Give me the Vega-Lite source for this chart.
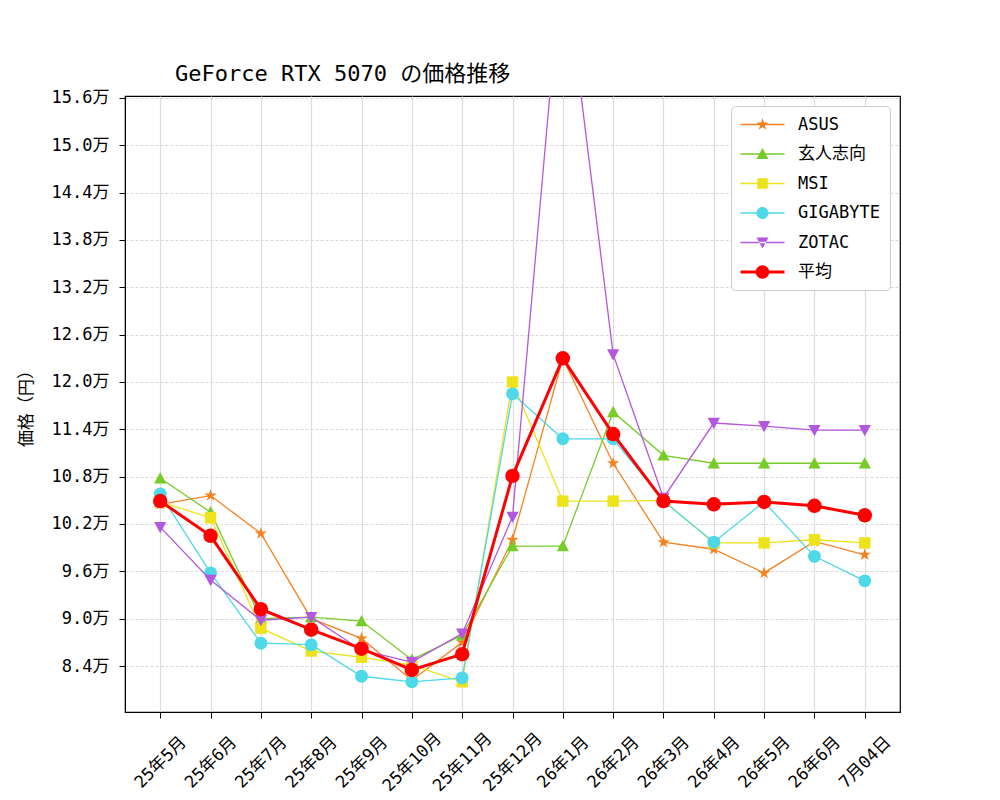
{
  "$schema": "https://vega.github.io/schema/vega-lite/v6.json",
  "width": 775,
  "height": 616,
  "autosize": {"type": "none"},
  "padding": {"left": 125, "top": 96, "right": 100, "bottom": 88},
  "background": "white",
  "title": {"text": "GeForce RTX 5070 の価格推移", "anchor": "start", "frame": "group", "dx": 50, "offset": 3, "fontSize": 22, "fontWeight": "normal", "color": "black"},
  "config": {
    "font": "DejaVu Sans Mono, Noto Sans CJK JP",
    "view": {"stroke": "black", "strokeWidth": 1.2},
    "axis": {"domainColor": "black", "tickColor": "black", "labelColor": "black", "titleColor": "black", "tickSize": 6, "labelFontSize": 17, "titleFontSize": 17, "titleFontWeight": "normal"}
  },
  "data": {"values": [
    {"date": "25年5月", "series": "ASUS", "price": 104500},
    {"date": "25年6月", "series": "ASUS", "price": 105600},
    {"date": "25年7月", "series": "ASUS", "price": 100800},
    {"date": "25年8月", "series": "ASUS", "price": 90000},
    {"date": "25年9月", "series": "ASUS", "price": 87500},
    {"date": "25年10月", "series": "ASUS", "price": 82200},
    {"date": "25年11月", "series": "ASUS", "price": 87000},
    {"date": "25年12月", "series": "ASUS", "price": 100000},
    {"date": "26年1月", "series": "ASUS", "price": 123000},
    {"date": "26年2月", "series": "ASUS", "price": 109700},
    {"date": "26年3月", "series": "ASUS", "price": 99700},
    {"date": "26年4月", "series": "ASUS", "price": 98800},
    {"date": "26年5月", "series": "ASUS", "price": 95800},
    {"date": "26年6月", "series": "ASUS", "price": 99800},
    {"date": "7月04日", "series": "ASUS", "price": 98100},
    {"date": "25年5月", "series": "玄人志向", "price": 107800},
    {"date": "25年6月", "series": "玄人志向", "price": 103500},
    {"date": "25年7月", "series": "玄人志向", "price": 90000},
    {"date": "25年8月", "series": "玄人志向", "price": 90200},
    {"date": "25年9月", "series": "玄人志向", "price": 89700},
    {"date": "25年10月", "series": "玄人志向", "price": 84800},
    {"date": "25年11月", "series": "玄人志向", "price": 87900},
    {"date": "25年12月", "series": "玄人志向", "price": 99200},
    {"date": "26年1月", "series": "玄人志向", "price": 99200},
    {"date": "26年2月", "series": "玄人志向", "price": 116200},
    {"date": "26年3月", "series": "玄人志向", "price": 110700},
    {"date": "26年4月", "series": "玄人志向", "price": 109700},
    {"date": "26年5月", "series": "玄人志向", "price": 109700},
    {"date": "26年6月", "series": "玄人志向", "price": 109700},
    {"date": "7月04日", "series": "玄人志向", "price": 109700},
    {"date": "25年5月", "series": "MSI", "price": 104800},
    {"date": "25年6月", "series": "MSI", "price": 102800},
    {"date": "25年7月", "series": "MSI", "price": 88800},
    {"date": "25年8月", "series": "MSI", "price": 85900},
    {"date": "25年9月", "series": "MSI", "price": 85100},
    {"date": "25年10月", "series": "MSI", "price": 84100},
    {"date": "25年11月", "series": "MSI", "price": 82000},
    {"date": "25年12月", "series": "MSI", "price": 120000},
    {"date": "26年1月", "series": "MSI", "price": 104900},
    {"date": "26年2月", "series": "MSI", "price": 104900},
    {"date": "26年3月", "series": "MSI", "price": 105000},
    {"date": "26年4月", "series": "MSI", "price": 99600},
    {"date": "26年5月", "series": "MSI", "price": 99600},
    {"date": "26年6月", "series": "MSI", "price": 100000},
    {"date": "7月04日", "series": "MSI", "price": 99600},
    {"date": "25年5月", "series": "GIGABYTE", "price": 105800},
    {"date": "25年6月", "series": "GIGABYTE", "price": 95800},
    {"date": "25年7月", "series": "GIGABYTE", "price": 86900},
    {"date": "25年8月", "series": "GIGABYTE", "price": 86700},
    {"date": "25年9月", "series": "GIGABYTE", "price": 82700},
    {"date": "25年10月", "series": "GIGABYTE", "price": 82000},
    {"date": "25年11月", "series": "GIGABYTE", "price": 82500},
    {"date": "25年12月", "series": "GIGABYTE", "price": 118500},
    {"date": "26年1月", "series": "GIGABYTE", "price": 112800},
    {"date": "26年2月", "series": "GIGABYTE", "price": 112800},
    {"date": "26年3月", "series": "GIGABYTE", "price": 104900},
    {"date": "26年4月", "series": "GIGABYTE", "price": 99700},
    {"date": "26年5月", "series": "GIGABYTE", "price": 104800},
    {"date": "26年6月", "series": "GIGABYTE", "price": 97900},
    {"date": "7月04日", "series": "GIGABYTE", "price": 94800},
    {"date": "25年5月", "series": "ZOTAC", "price": 101600},
    {"date": "25年6月", "series": "ZOTAC", "price": 94900},
    {"date": "25年7月", "series": "ZOTAC", "price": 89800},
    {"date": "25年8月", "series": "ZOTAC", "price": 90200},
    {"date": "25年9月", "series": "ZOTAC", "price": 86000},
    {"date": "25年10月", "series": "ZOTAC", "price": 84500},
    {"date": "25年11月", "series": "ZOTAC", "price": 88100},
    {"date": "25年12月", "series": "ZOTAC", "price": 102900},
    {"date": "26年1月", "series": "ZOTAC", "price": 175000},
    {"date": "26年2月", "series": "ZOTAC", "price": 123500},
    {"date": "26年3月", "series": "ZOTAC", "price": 105300},
    {"date": "26年4月", "series": "ZOTAC", "price": 114800},
    {"date": "26年5月", "series": "ZOTAC", "price": 114400},
    {"date": "26年6月", "series": "ZOTAC", "price": 113900},
    {"date": "7月04日", "series": "ZOTAC", "price": 113900},
    {"date": "25年5月", "series": "平均", "price": 104900},
    {"date": "25年6月", "series": "平均", "price": 100500},
    {"date": "25年7月", "series": "平均", "price": 91200},
    {"date": "25年8月", "series": "平均", "price": 88600},
    {"date": "25年9月", "series": "平均", "price": 86200},
    {"date": "25年10月", "series": "平均", "price": 83500},
    {"date": "25年11月", "series": "平均", "price": 85500},
    {"date": "25年12月", "series": "平均", "price": 108100},
    {"date": "26年1月", "series": "平均", "price": 123000},
    {"date": "26年2月", "series": "平均", "price": 113400},
    {"date": "26年3月", "series": "平均", "price": 104900},
    {"date": "26年4月", "series": "平均", "price": 104500},
    {"date": "26年5月", "series": "平均", "price": 104800},
    {"date": "26年6月", "series": "平均", "price": 104300},
    {"date": "7月04日", "series": "平均", "price": 103100}
  ]},
  "encoding": {
    "x": {"field": "date", "type": "ordinal", "sort": null,
      "scale": {"type": "point", "padding": 0.7, "domain": ["25年5月","25年6月","25年7月","25年8月","25年9月","25年10月","25年11月","25年12月","26年1月","26年2月","26年3月","26年4月","26年5月","26年6月","7月04日"]},
      "axis": {"title": null, "labelAngle": -45, "labelAlign": "center", "labelBaseline": "middle", "labelPadding": 44, "labelFontSize": 17, "grid": true, "gridColor": "#dddddd", "gridWidth": 1.2}},
    "y": {"field": "price", "type": "quantitative",
      "scale": {"domain": [78170, 156250], "nice": false, "zero": false},
      "axis": {"title": "価格（円）", "values": [84000,90000,96000,102000,108000,114000,120000,126000,132000,138000,144000,150000,156000],
        "labelExpr": "format(datum.value/10000, '.1f') + '万'", "grid": true, "gridColor": "#d8d8d8", "gridDash": [3, 2], "gridWidth": 1, "titlePadding": 16, "labelPadding": 10}}
  },
  "layer": [
    {"transform": [{"filter": "datum.series === 'ASUS'"}],
     "mark": {"type": "line", "strokeWidth": 1.3, "clip": true, "color": "#f5821f",
       "point": {"filled": true, "size": 170, "color": "#f5821f", "shape": "M0,-1L0.225,-0.309L0.951,-0.309L0.363,0.118L0.588,0.809L0,0.382L-0.588,0.809L-0.363,0.118L-0.951,-0.309L-0.225,-0.309Z", "opacity": 1}}},
    {"transform": [{"filter": "datum.series === '玄人志向'"}],
     "mark": {"type": "line", "strokeWidth": 1.3, "clip": true, "color": "#77cc29",
       "point": {"filled": true, "size": 150, "color": "#77cc29", "shape": "M0,-1L1,0.85L-1,0.85Z", "opacity": 1}}},
    {"transform": [{"filter": "datum.series === 'MSI'"}],
     "mark": {"type": "line", "strokeWidth": 1.3, "clip": true, "color": "#ece31a",
       "point": {"filled": true, "size": 130, "color": "#ece31a", "shape": "square", "opacity": 1}}},
    {"transform": [{"filter": "datum.series === 'GIGABYTE'"}],
     "mark": {"type": "line", "strokeWidth": 1.3, "clip": true, "color": "#4ed8e8",
       "point": {"filled": true, "size": 165, "color": "#4ed8e8", "shape": "circle", "opacity": 1}}},
    {"transform": [{"filter": "datum.series === 'ZOTAC'"}],
     "mark": {"type": "line", "strokeWidth": 1.3, "clip": true, "color": "#b357de",
       "point": {"filled": true, "size": 150, "color": "#b357de", "shape": "M0,1L1,-0.85L-1,-0.85Z", "opacity": 1, "clip": true}}},
    {"transform": [{"filter": "datum.series === '平均'"}],
     "mark": {"type": "line", "strokeWidth": 3, "clip": true, "color": "#ff0000",
       "point": {"filled": true, "size": 210, "color": "#ff0000", "shape": "circle", "opacity": 1}}},
    {"mark": {"type": "point", "filled": true, "opacity": 0, "clip": true},
     "encoding": {
       "color": {"field": "series", "type": "nominal",
         "scale": {"domain": ["ASUS","玄人志向","MSI","GIGABYTE","ZOTAC","平均"], "range": ["#f5821f","#77cc29","#ece31a","#4ed8e8","#b357de","#ff0000"]},
         "legend": {"title": null, "orient": "top-right", "offset": 10, "fillColor": "white", "strokeColor": "#cccccc", "cornerRadius": 4, "padding": 10, "symbolOffset": 13, "labelOffset": 27, "symbolSize": 100, "rowPadding": 11.5, "labelFontSize": 17, "labelColor": "black", "symbolOpacity": 1, "symbolStrokeWidth": 0,
           "encode": {"symbols": {"update": {"opacity": {"value": 1}, "fillOpacity": {"value": 1}, "fill": {"scale": "color", "field": "value"}, "strokeWidth": {"value": 0}}}}}},
       "shape": {"field": "series", "type": "nominal",
         "scale": {"domain": ["ASUS","玄人志向","MSI","GIGABYTE","ZOTAC","平均"],
           "range": [
             "M-4.4,-0.13H4.4V0.13H-4.4ZM0,-1.3L0.29,-0.4L1.24,-0.4L0.47,0.15L0.76,1.05L0,0.5L-0.76,1.05L-0.47,0.15L-1.24,-0.4L-0.29,-0.4Z",
             "M-4.4,-0.13H4.4V0.13H-4.4ZM0,-1.2L1.2,1.0L-1.2,1.0Z",
             "M-4.4,-0.13H4.4V0.13H-4.4ZM-1.05,-1.05H1.05V1.05H-1.05Z",
             "M-4.4,-0.13H4.4V0.13H-4.4ZM1.2,0A1.2,1.2,0,1,1,-1.2,0A1.2,1.2,0,1,1,1.2,0Z",
             "M-4.4,-0.13H4.4V0.13H-4.4ZM0,1.2L1.2,-1.0L-1.2,-1.0Z",
             "M-4.4,-0.3H4.4V0.3H-4.4ZM1.35,0A1.35,1.35,0,1,1,-1.35,0A1.35,1.35,0,1,1,1.35,0Z"
           ]},
         "legend": {"title": null}},
       "size": {"value": 100}
     }}
  ]
}
